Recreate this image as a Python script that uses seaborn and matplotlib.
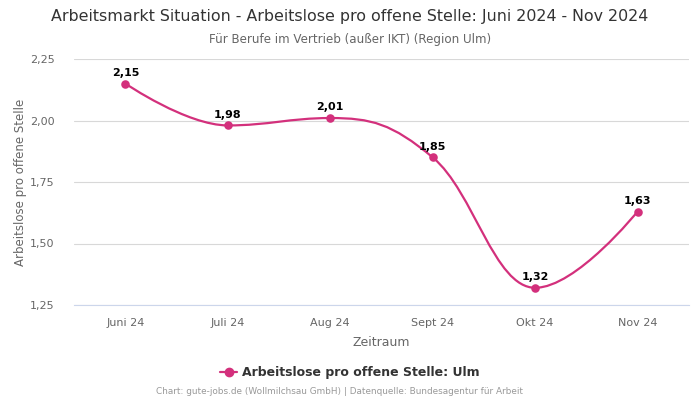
import matplotlib
matplotlib.use('Agg')
import matplotlib.pyplot as plt
from matplotlib.path import Path
from matplotlib.patches import PathPatch
from matplotlib.lines import Line2D
import numpy as np
import pandas as pd
import seaborn as sns

months = ['Juni 24', 'Juli 24', 'Aug 24', 'Sept 24', 'Okt 24', 'Nov 24']
values = [2.15, 1.98, 2.01, 1.85, 1.32, 1.63]
y_ticks = [1.25, 1.50, 1.75, 2.00, 2.25]

color = '#d3307c'


def spline_path(xs, ys, smoothing=1.5):
    # Highcharts-style spline: cubic bezier with clamped control points
    n = len(xs)
    denom = smoothing + 1
    lc = [(xs[i], ys[i]) for i in range(n)]
    rc = [(xs[i], ys[i]) for i in range(n)]
    for i in range(1, n - 1):
        px, py = xs[i], ys[i]
        lx, ly = xs[i - 1], ys[i - 1]
        nx, ny = xs[i + 1], ys[i + 1]
        lcx = (smoothing * px + lx) / denom
        lcy = (smoothing * py + ly) / denom
        rcx = (smoothing * px + nx) / denom
        rcy = (smoothing * py + ny) / denom
        corr = (rcy - lcy) * (rcx - px) / (rcx - lcx) + py - rcy
        lcy += corr
        rcy += corr
        if lcy > ly and lcy > py:
            lcy = max(ly, py)
            rcy = 2 * py - lcy
        elif lcy < ly and lcy < py:
            lcy = min(ly, py)
            rcy = 2 * py - lcy
        if rcy > ny and rcy > py:
            rcy = max(ny, py)
            lcy = 2 * py - rcy
        elif rcy < ny and rcy < py:
            rcy = min(ny, py)
            lcy = 2 * py - rcy
        lc[i] = (lcx, lcy)
        rc[i] = (rcx, rcy)
    verts = [(xs[0], ys[0])]
    codes = [Path.MOVETO]
    for i in range(1, n):
        verts += [rc[i - 1], lc[i], (xs[i], ys[i])]
        codes += [Path.CURVE4] * 3
    return Path(verts, codes)


df = pd.DataFrame({'x': np.arange(len(months)), 'y': values})

sns.set_style('white')
plt.rcParams['font.family'] = ['DejaVu Sans']

fig = plt.figure(figsize=(7, 4), dpi=100)
ax = fig.add_axes([0.106, 0.2375, 0.878, 0.615])

ax.add_patch(PathPatch(spline_path(df['x'].tolist(), df['y'].tolist()),
                       facecolor='none', edgecolor=color, lw=1.6, zorder=3))
sns.scatterplot(data=df, x='x', y='y', ax=ax, color=color, s=38,
                edgecolor=color, linewidth=0, zorder=4, legend=False)

for xi, yi in zip(df['x'], df['y']):
    ax.annotate(f'{yi:.2f}'.replace('.', ','), (xi, yi), xytext=(0, 4),
                textcoords='offset points', ha='center', va='bottom',
                fontsize=8, fontweight='bold', color='#000000')

ax.set_xlim(-0.5, len(months) - 0.5)
ax.set_ylim(1.25, 2.25)
ax.set_xticks(df['x'])
ax.set_xticklabels(months)
ax.set_yticks(y_ticks)
ax.set_yticklabels([f'{t:.2f}'.replace('.', ',') for t in y_ticks])
ax.tick_params(axis='both', length=0, labelsize=8, colors='#666666')
ax.tick_params(axis='x', pad=9)
ax.tick_params(axis='y', pad=14)
ax.grid(axis='y', color='#d8d8d8', lw=0.8)
ax.set_axisbelow(True)
for s in ['top', 'right', 'left']:
    ax.spines[s].set_visible(False)
ax.spines['bottom'].set_color('#ccd6eb')
ax.spines['bottom'].set_linewidth(0.8)

ax.set_xlabel('Zeitraum', fontsize=9, color='#666666', labelpad=6)
ax.set_ylabel('Arbeitslose pro offene Stelle', fontsize=8.5, color='#666666', labelpad=2)

fig.text(0.5, 0.958, 'Arbeitsmarkt Situation - Arbeitslose pro offene Stelle: Juni 2024 - Nov 2024',
         ha='center', va='center', fontsize=11.4, color='#333333')
fig.text(0.5, 0.902, 'Für Berufe im Vertrieb (außer IKT) (Region Ulm)',
         ha='center', va='center', fontsize=8.6, color='#666666')

handle = Line2D([], [], color=color, lw=1.6, marker='o', markersize=6)
fig.legend([handle], ['Arbeitslose pro offene Stelle: Ulm'], loc='center',
           bbox_to_anchor=(0.5, 0.068), frameon=False, handlelength=1.4,
           handletextpad=0.4, prop={'size': 9, 'weight': 'bold'}, labelcolor='#333333')

fig.text(0.485, 0.02, 'Chart: gute-jobs.de (Wollmilchsau GmbH) | Datenquelle: Bundesagentur für Arbeit',
         ha='center', va='center', fontsize=6.4, color='#999999')

fig.savefig('out.png', dpi=100)
